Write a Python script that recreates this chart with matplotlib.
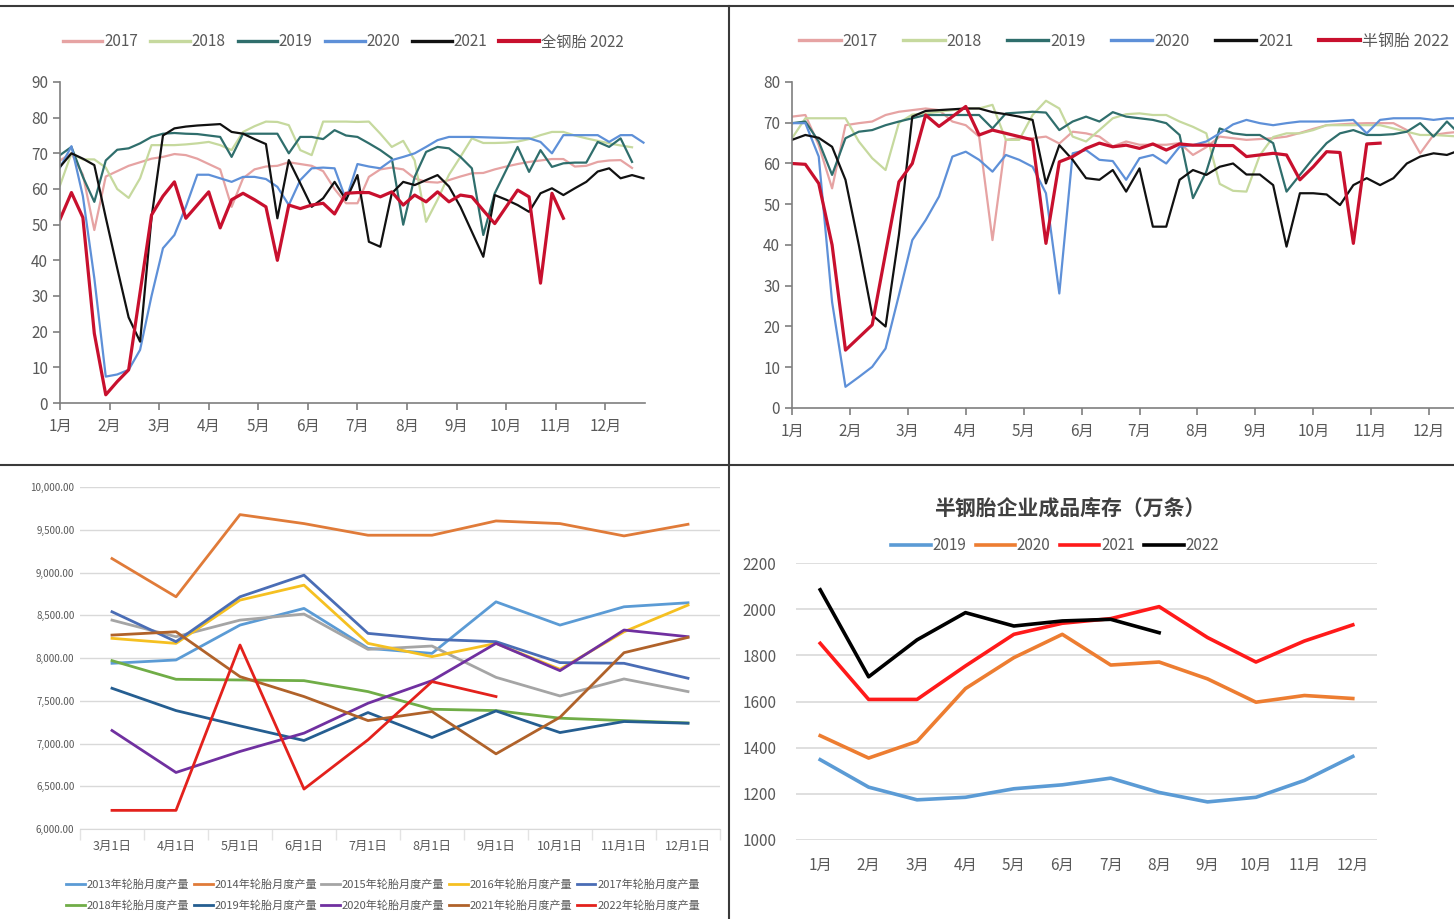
import numpy as np
import matplotlib
matplotlib.use("Agg")
import matplotlib.pyplot as plt
from matplotlib.lines import Line2D

plt.rcParams['font.family'] = ['Noto Sans CJK SC', 'DejaVu Sans']
plt.rcParams['axes.unicode_minus'] = False

# ---------------- data ----------------
months = ['1月', '2月', '3月', '4月', '5月', '6月', '7月', '8月', '9月', '10月', '11月', '12月']

# Panel 1: all-steel tyre operating rate (weekly)
p1_labels = ['2017', '2018', '2019', '2020', '2021', '全钢胎 2022']
p1_2017 = [68, 70, 64, 48.5, 63.5, 65, 66.5, 67.5, 68.5, 69, 69.8, 69.5, 68.5, 67, 65.5, 55, 63, 65.5, 66.3, 66.5,
           67.5, 67, 66.5, 65, 60, 56, 56, 63.4, 65.5, 66, 65.5, 63, 62, 61.8, 62.5, 63.5, 64.4, 64.5, 65.5, 66.3,
           67, 67.6, 68, 68.4, 68.4, 66.3, 66.5, 67.6, 68, 68.1, 65.9]
p1_2018 = [61, 70, 68.3, 68.3, 66, 60, 57.5, 63, 72.3, 72.3, 72.3, 72.5, 72.8, 73.2, 72.3, 70.9, 76, 77.6, 78.9, 78.8,
           77.9, 70.9, 69.5, 78.9, 78.9, 78.9, 78.8, 78.9, 75.5, 71.8, 73.5, 68, 50.8, 57, 64, 69, 74.2, 72.9, 72.9, 73,
           73.3, 74, 75.1, 76, 76, 75, 74.2, 73.5, 72.8, 72.2, 71.7]
p1_2019 = [69.5, 71.8, 63.4, 56.4, 68, 71, 71.4, 72.8, 74.6, 75.5, 75.7, 75.5, 75.4, 75, 74.6, 69, 75.5, 75.5, 75.5,
           75.5, 70, 74.6, 74.6, 74, 76.5, 75, 74.6, 72.8, 70.9, 68.6, 50, 63.4, 70.4, 71.8, 71.4, 69, 65.8, 47.1, 58.8,
           65.3, 71.8, 64.8, 70.9, 66.2, 67.2, 67.4, 67.4, 73.2, 71.8, 74.2, 67.6]
p1_2020 = [66, 72, 58, 35, 7.4, 8, 9.3, 14.9, 30, 43.4, 47.1, 55, 64, 64, 63, 62, 63.4, 63.4, 62.8, 60.6, 55.5, 62.5,
           65.8, 66, 65.8, 57, 67, 66.3, 65.8, 68.1, 69, 70, 71.8, 73.7, 74.6, 74.6, 74.6, 74.5, 74.4, 74.3, 74.2, 74.2,
           73.2, 70, 75.1, 75.1, 75.1, 75.1, 73.2, 75.1, 75.1, 73]
p1_2021 = [66.2, 70, 68.5, 66.7, 52, 37.8, 24, 17.2, 52, 75, 77, 77.5, 77.8, 78, 78.2, 76, 75.5, 74, 72.6, 51.8, 68.1,
           61.6, 55, 57.4, 62, 56.9, 63.9, 45.2, 43.8, 58.8, 62, 61.1, 62.5, 63.9, 60.7, 55, 48, 41, 58.3, 57, 55.5,
           53.6, 58.8, 60.2, 58.3, 60.2, 62, 64.9, 65.8, 63, 63.9, 63]
p1_2022 = [51.5, 59, 52, 19.5, 2.3, 6, 9.3, 31, 52.7, 58, 62, 51.8, 55.5, 59.2, 49.1, 57, 58.8, 57, 55, 40, 55.5, 54.5,
           55.5, 56, 53, 58.8, 59, 59, 57.8, 59.2, 55.5, 58.3, 56.4, 59.2, 56.4, 58.3, 57.8, 54, 50.3, 55, 59.7, 57.8,
           33.6, 58.8, 51.8]

# Panel 2: semi-steel tyre operating rate (weekly)
p2_labels = ['2017', '2018', '2019', '2020', '2021', '半钢胎 2022']
p2_2017 = [71.5, 71.9, 64.5, 53.9, 69.4, 69.9, 70.3, 71.9, 72.7, 73.1, 73.5, 73.1, 70.3, 69.4, 66.6, 41.2, 65.8, 66.2,
           66.2, 66.6, 64.9, 67.8, 67.4, 66.6, 64.2, 65.4, 64.6, 64.6, 64.6, 65, 62.1, 64, 66.6, 66.2, 65.8, 66, 66.2,
           66.6, 67.5, 68.5, 69.4, 69.6, 69.8, 69.9, 69.9, 69.9, 68.2, 62.5, 67, 67.5, 67.8]
p2_2018 = [66.2, 71.1, 71.1, 71.1, 71.1, 65.4, 61.3, 58.4, 70, 72, 72.3, 72.7, 73.1, 73.5, 73.5, 74.4, 65.8, 65.8,
           71.9, 75.4, 73.5, 66.6, 65.4, 68.2, 71.1, 72.1, 72.3, 71.9, 71.9, 70.3, 69, 67.4, 55, 53.3, 53.1, 62, 66.5,
           67.4, 67.4, 68.2, 69.4, 69.4, 69.4, 69.4, 69.4, 68.6, 67.8, 67, 67, 66.8, 66.6]
p2_2019 = [69.9, 70.3, 65.4, 57.2, 66.2, 67.8, 68.2, 69.4, 70.3, 71.1, 71.9, 71.9, 71.9, 71.9, 71.9, 68.6, 72.3, 72.5,
           72.7, 72.5, 68.2, 70.3, 71.5, 70.3, 72.6, 71.5, 71.1, 70.7, 69.9, 67, 51.5, 58, 68.6, 67.4, 67, 67, 65, 53.1,
           57.2, 61.3, 65, 67.4, 68.2, 67, 67, 67.2, 67.8, 69.9, 66.6, 70.3, 67]
p2_2020 = [69.9, 69.9, 61.7, 26, 5.2, 7.6, 10.1, 14.6, 27.7, 41.2, 46.1, 51.9, 61.7, 62.9, 60.9, 58, 62.1, 60.9, 59.2,
           52.7, 28.1, 62.5, 63.3, 60.9, 60.6, 56, 61.3, 62.1, 60, 64.1, 64.5, 65.4, 67.4, 69.6, 70.7, 69.9, 69.4, 69.9,
           70.3, 70.3, 70.3, 70.5, 70.7, 67.4, 70.7, 71.1, 71.1, 71.1, 70.7, 71.1, 71.1]
p2_2021 = [65.8, 67, 66.3, 64.1, 56, 40, 22.8, 20, 42.5, 71.5, 72.9, 73.1, 73.3, 73.5, 73.5, 72.6, 72.1, 71.5, 70.7,
           55.1, 64.5, 60.9, 56.4, 56, 58.4, 53.1, 58.8, 44.5, 44.5, 56, 58.4, 57.2, 59.2, 60, 57.3, 57.3, 54.7, 39.6,
           52.7, 52.7, 52.4, 49.8, 54.7, 56.4, 54.7, 56.4, 60, 61.7, 62.5, 62.1, 63.3]
p2_2022 = [60, 59.8, 55.1, 40, 14.2, 17.3, 20.4, 38, 55.5, 60, 71.9, 69.1, 71.5, 74, 67, 68.2, 67.4, 66.6, 65.8, 40.4,
           60.4, 61.7, 63.7, 65, 64.1, 64.5, 63.7, 64.8, 63.3, 64.8, 64.5, 64.5, 64.4, 64.4, 61.7, 62.1, 62.5, 62.1, 56,
           59.2, 62.9, 62.7, 40.4, 64.8, 65]

# Panel 3: monthly tyre output
p3_cats = ['3月1日', '4月1日', '5月1日', '6月1日', '7月1日', '8月1日', '9月1日', '10月1日', '11月1日', '12月1日']
p3_labels = ['2013年轮胎月度产量', '2014年轮胎月度产量', '2015年轮胎月度产量', '2016年轮胎月度产量', '2017年轮胎月度产量',
             '2018年轮胎月度产量', '2019年轮胎月度产量', '2020年轮胎月度产量', '2021年轮胎月度产量', '2022年轮胎月度产量']
out2013 = [7938, 7977, 8385, 8580, 8113, 8054, 8657, 8385, 8599, 8646]
out2014 = [9163, 8716, 9677, 9572, 9436, 9436, 9603, 9572, 9428, 9564]
out2015 = [8443, 8249, 8443, 8514, 8101, 8140, 7774, 7556, 7755, 7607]
out2016 = [8230, 8171, 8677, 8852, 8171, 8016, 8171, 7868, 8307, 8619]
out2017 = [8541, 8191, 8716, 8969, 8288, 8218, 8191, 7946, 7938, 7763]
out2018 = [7969, 7751, 7743, 7735, 7607, 7401, 7385, 7296, 7268, 7240]
out2019 = [7646, 7385, 7206, 7035, 7362, 7070, 7381, 7128, 7257, 7237]
out2020 = [7152, 6661, 6907, 7121, 7471, 7735, 8171, 7852, 8327, 8249]
out2021 = [8268, 8307, 7782, 7549, 7268, 7374, 6879, 7307, 8062, 8241]
out2022 = [6218, 6218, 8152, 6467, 7043, 7724, 7549]

# Panel 4: semi-steel finished goods inventory
p4_title = '半钢胎企业成品库存（万条）'
p4_labels = ['2019', '2020', '2021', '2022']
inv2019 = [1348, 1229, 1174, 1185, 1222, 1239, 1268, 1206, 1165, 1185, 1258, 1362]
inv2020 = [1452, 1355, 1427, 1656, 1790, 1891, 1758, 1771, 1698, 1597, 1626, 1613]
inv2021 = [1852, 1609, 1609, 1754, 1891, 1939, 1959, 2011, 1877, 1771, 1862, 1932]
inv2022 = [2084, 1707, 1867, 1985, 1927, 1949, 1956, 1898]

# ---------------- figure ----------------
W, H = 1454, 919
fig = plt.figure(figsize=(W / 100, H / 100), dpi=100)
fig.patch.set_facecolor('white')


def rect(x0, y_top, x1, y_bot):
    return [x0 / W, 1 - y_bot / H, (x1 - x0) / W, (y_bot - y_top) / H]


grey = '#595959'
wk_colors = ['#E6A3A3', '#C6D99E', '#2F6E6C', '#5E90D8', '#111111', '#C8102E']


def weekly_panel(ax, series, labels, ymax, xmax, legend_x, legend_y, leg_fs, leg_cs):
    handles = []
    for s, c, lab in zip(series, wk_colors, labels):
        x = np.arange(len(s)) * 12 / 52
        lw = 2.3 if c == '#C8102E' else 1.6
        h, = ax.plot(x, s, color=c, lw=lw, label=lab, solid_joinstyle='round')
        handles.append(h)
    ax.set_xlim(0, xmax)
    ax.set_ylim(0, ymax)
    ax.set_xticks(range(12))
    ax.set_xticklabels(months)
    ax.set_yticks(range(0, ymax + 1, 10))
    for sp in ['top', 'right']:
        ax.spines[sp].set_visible(False)
    for sp in ['left', 'bottom']:
        ax.spines[sp].set_color('#7F7F7F')
        ax.spines[sp].set_linewidth(1.2)
    ax.tick_params(axis='both', colors='#7F7F7F', labelcolor=grey, labelsize=11, length=5, width=1.2, direction='out')
    ax.tick_params(axis='x', pad=6)
    leg_handles = [Line2D([], [], color=h.get_color(), lw=2.4 if h.get_color() != '#C8102E' else 3.0) for h in handles]
    fig.legend(handles=leg_handles, labels=labels, loc='center', bbox_to_anchor=(legend_x / W, 1 - legend_y / H),
               ncol=6, frameon=False, fontsize=leg_fs, handlelength=2.6, handletextpad=0.1, columnspacing=leg_cs,
               labelcolor=grey)


ax1 = fig.add_axes(rect(60, 82, 645, 403))
weekly_panel(ax1, [p1_2017, p1_2018, p1_2019, p1_2020, p1_2021, p1_2022], p1_labels, 90, 11.8, 343, 42, 11, 0.8)

ax2 = fig.add_axes(rect(792, 82, 1454, 408))
weekly_panel(ax2, [p2_2017, p2_2018, p2_2019, p2_2020, p2_2021, p2_2022], p2_labels, 80, 11.43, 1124, 41, 11.5, 1.6)

# Panel 3
ax3 = fig.add_axes(rect(80, 487, 720, 829))
p3_series = [out2013, out2014, out2015, out2016, out2017, out2018, out2019, out2020, out2021, out2022]
p3_colors = ['#5B9BD5', '#E07B39', '#A5A5A5', '#F5C021', '#4A6DB5', '#70AD47', '#255E91', '#7030A0', '#B0622A',
             '#E3211C']
h3 = []
for s, c, lab in zip(p3_series, p3_colors, p3_labels):
    h, = ax3.plot(range(len(s)), s, color=c, lw=2.0, label=lab)
    h3.append(h)
ax3.set_xlim(-0.5, 9.5)
ax3.set_ylim(6000, 10000)
ax3.set_yticks(range(6000, 10001, 500))
ax3.set_yticklabels([f'{v:,.2f}' for v in range(6000, 10001, 500)])
ax3.set_xticks(range(10))
ax3.set_xticklabels(p3_cats)
ax3.set_xticks(np.arange(-0.5, 10, 1), minor=True)
ax3.grid(axis='y', color='#D9D9D9', lw=1.0)
ax3.set_axisbelow(True)
for sp in ['top', 'right', 'left']:
    ax3.spines[sp].set_visible(False)
ax3.spines['bottom'].set_color('#D9D9D9')
ax3.tick_params(axis='y', length=0, labelsize=7, labelcolor=grey, pad=4)
ax3.tick_params(axis='x', which='major', length=0, labelsize=9, labelcolor=grey, pad=8)
ax3.tick_params(axis='x', which='minor', length=8, color='#E3E3E3', width=1)
order = [0, 5, 1, 6, 2, 7, 3, 8, 4, 9]
fig.legend(handles=[h3[i] for i in order], labels=[p3_labels[i] for i in order], loc='center',
           bbox_to_anchor=(383 / W, 1 - 895 / H), ncol=5, frameon=False, fontsize=8, handlelength=1.7,
           handletextpad=0.15, columnspacing=0.4, labelspacing=1.0, labelcolor=grey)

# Panel 4
ax4 = fig.add_axes(rect(796, 563, 1377, 840))
p4_colors = ['#5B9BD5', '#ED7D31', '#FF1A1A', '#000000']
h4 = []
for s, c, lab in zip([inv2019, inv2020, inv2021, inv2022], p4_colors, p4_labels):
    h, = ax4.plot(range(len(s)), s, color=c, lw=2.6, label=lab)
    h4.append(h)
ax4.set_xlim(-0.5, 11.5)
ax4.set_ylim(1000, 2200)
ax4.set_yticks(range(1000, 2201, 200))
ax4.set_xticks(range(12))
ax4.set_xticklabels(months)
ax4.grid(axis='y', color='#D9D9D9', lw=1.2)
ax4.set_axisbelow(True)
for sp in ax4.spines.values():
    sp.set_visible(False)
ax4.tick_params(axis='both', length=0, labelsize=11, labelcolor=grey)
ax4.tick_params(axis='y', pad=14)
ax4.tick_params(axis='x', pad=12)
fig.text(1070 / W, 1 - 508 / H, p4_title, ha='center', va='center', fontsize=15, fontweight='bold', color='#404040')
fig.legend(handles=h4, labels=p4_labels, loc='center', bbox_to_anchor=(1055 / W, 1 - 546 / H), ncol=4,
           frameon=False, fontsize=11, handlelength=2.6, handletextpad=0.1, columnspacing=0.6, labelcolor=grey)

# dividers
lc = '#3A3A3A'
fig.add_artist(Line2D([0, 1], [1 - 6 / H, 1 - 6 / H], transform=fig.transFigure, color=lc, lw=1.5))
fig.add_artist(Line2D([728.5 / W, 728.5 / W], [0, 1 - 6 / H], transform=fig.transFigure, color=lc, lw=1.5))
fig.add_artist(Line2D([0, 1], [1 - 465 / H, 1 - 465 / H], transform=fig.transFigure, color=lc, lw=1.5))

fig.savefig('out.png', dpi=100, facecolor='white')
